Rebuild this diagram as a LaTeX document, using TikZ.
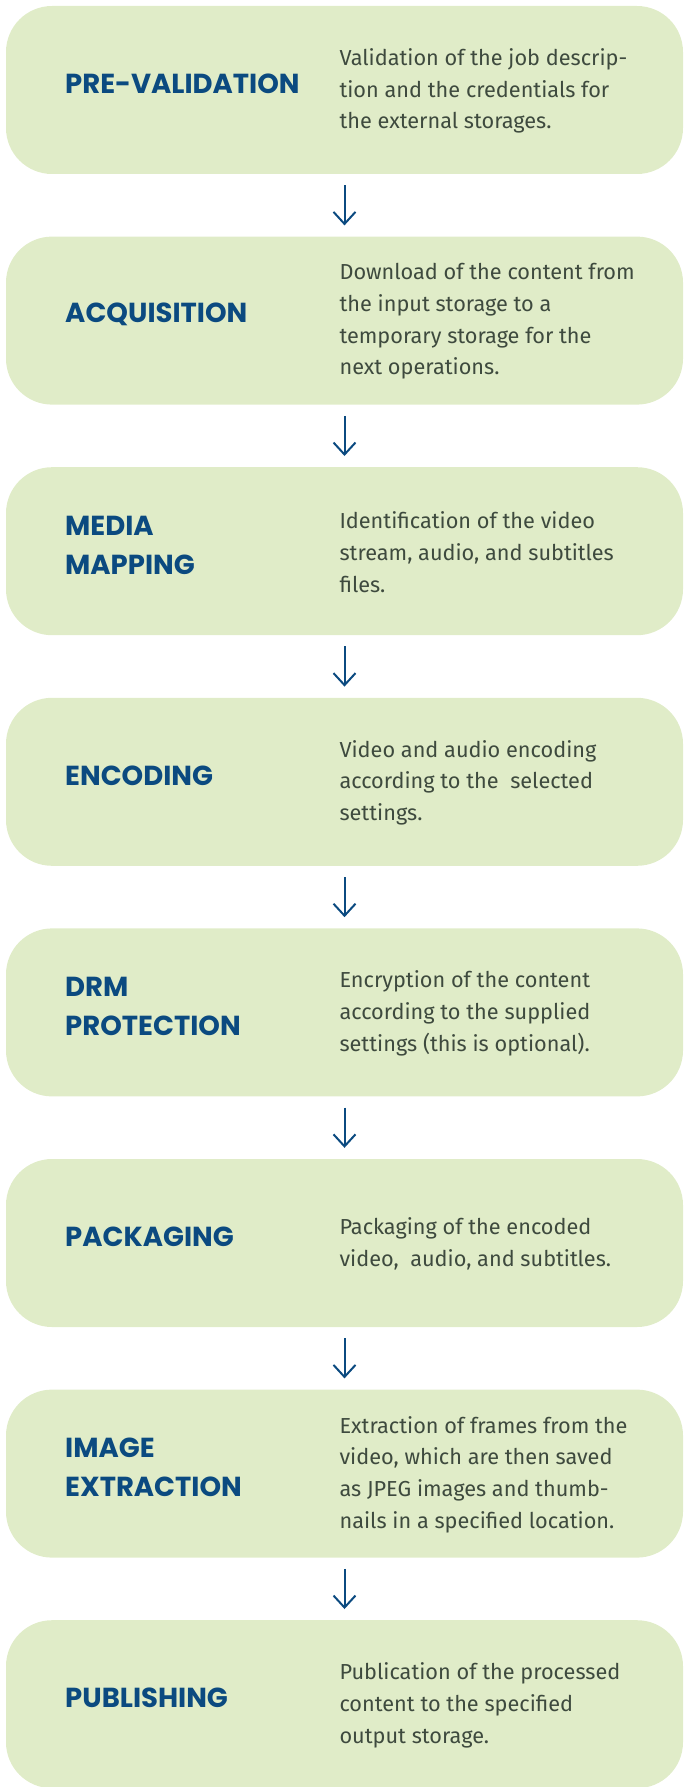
\documentclass[tikz,border=0pt]{standalone}
\usepackage{fontspec}
\setmainfont{Fira Sans}
\newfontfamily\titlefont{Poppins}
\usetikzlibrary{arrows.meta}
\definecolor{boxfill}{HTML}{E0ECC8}
\definecolor{navy}{HTML}{0B4A80}
\definecolor{bodygray}{HTML}{3E4A3E}
\tikzset{
  stagebox/.style={rectangle, fill=boxfill, rounded corners=46pt,
    minimum width=677pt, minimum height=168pt, inner sep=0pt},
  stagetitle/.style={anchor=west, align=left, text=navy,
    font=\titlefont\bfseries\fontsize{27.5}{38.7}\selectfont},
  stagetext/.style={anchor=west, align=left, text=bodygray,
    font=\fontsize{21.7}{31.7}\selectfont},
  flow/.style={draw=navy, line width=2pt,
    -{Straight Barb[length=12pt,width=22pt,line width=2pt]},
    shorten <=11pt, shorten >=11pt},
  titlepos/.style={xshift=-282.8pt,yshift=6pt},
  textpos/.style={xshift=-8.5pt,yshift=-1pt}
}
\begin{document}
\begin{tikzpicture}[x=1pt,y=-1pt]
\useasboundingbox (0,0) rectangle (684,1787);
% stage boxes, one every 230.6pt
\foreach \i in {1,...,8}{
  \node[stagebox] (b\i) at (344.5, {6+230.6*(\i-1)+84}) {};
}
% titles
\node[stagetitle] (t1) at ([titlepos]b1.center) {PRE-VALIDATION};
\node[stagetitle] (t2) at ([titlepos]b2.center) {ACQUISITION};
\node[stagetitle] (t3) at ([titlepos]b3.center) {MEDIA\\MAPPING};
\node[stagetitle] (t4) at ([titlepos]b4.center) {ENCODING};
\node[stagetitle] (t5) at ([titlepos]b5.center) {DRM\\PROTECTION};
\node[stagetitle] (t6) at ([titlepos]b6.center) {PACKAGING};
\node[stagetitle] (t7) at ([titlepos]b7.center) {IMAGE\\EXTRACTION};
\node[stagetitle] (t8) at ([titlepos]b8.center) {PUBLISHING};
% descriptions
\node[stagetext] (d1) at ([textpos]b1.center) {Validation of the job descrip-\\tion and the credentials for\\the external storages.};
\node[stagetext] (d2) at ([textpos]b2.center) {Download of the content from\\the input storage to a\\temporary storage for the\\next operations.};
\node[stagetext] (d3) at ([textpos]b3.center) {Identification of the video\\stream, audio, and subtitles\\files.};
\node[stagetext] (d4) at ([textpos]b4.center) {Video and audio encoding\\according to the\ \ selected\\settings.};
\node[stagetext] (d5) at ([textpos]b5.center) {Encryption of the content\\according to the supplied\\settings (this is optional).};
\node[stagetext] (d6) at ([textpos]b6.center) {Packaging of the encoded\\video,\ \ audio, and subtitles.};
\node[stagetext] (d7) at ([textpos]b7.center) {Extraction of frames from the\\video, which are then saved\\as JPEG images and thumb-\\nails in a specified location.};
\node[stagetext] (d8) at ([textpos]b8.center) {Publication of the processed\\content to the specified\\output storage.};
% arrows between consecutive stages
\foreach \i [evaluate=\i as \j using int(\i+1)] in {1,...,7}{
  \draw[flow] (b\i.south) -- (b\j.north);
}
\end{tikzpicture}
\end{document}
